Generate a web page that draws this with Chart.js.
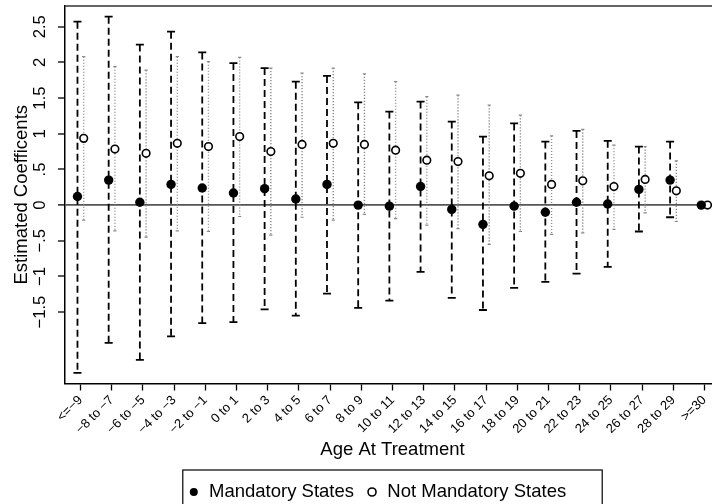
<!DOCTYPE html>
<html>
<head>
<meta charset="utf-8">
<style>
html, body { margin: 0; padding: 0; overflow: hidden; background: #fff; }
#wrap { position: relative; width: 754px; height: 512px; }
</style>
<script src="https://cdn.jsdelivr.net/npm/chart.js@4.4.1/dist/chart.umd.min.js"></script>
</head>
<body>
<div id="wrap"><canvas id="c" width="754" height="512"></canvas></div>
<script>
// ---------- data ----------
const categories = ["<=\u22129", "\u22128 to \u22127", "\u22126 to \u22125", "\u22124 to \u22123", "\u22122 to \u22121",
  "0 to 1", "2 to 3", "4 to 5", "6 to 7", "8 to 9", "10 to 11", "12 to 13", "14 to 15", "16 to 17",
  "18 to 19", "20 to 21", "22 to 23", "24 to 25", "26 to 27", "28 to 29", ">=30"];

const mandatoryCoef  = [0.12, 0.35, 0.04, 0.29, 0.24, 0.17, 0.23, 0.085, 0.29, 0.00, -0.015, 0.26, -0.06, -0.27, -0.015, -0.10, 0.04, 0.015, 0.22, 0.35, 0.00];
const mandatoryUpper = [2.57, 2.64, 2.25, 2.43, 2.14, 1.99, 1.92, 1.73, 1.81, 1.44, 1.31, 1.45, 1.17, 0.96, 1.145, 0.89, 1.04, 0.90, 0.82, 0.89, null];
const mandatoryLower = [-2.35, -1.93, -2.17, -1.84, -1.655, -1.64, -1.46, -1.55, -1.24, -1.44, -1.34, -0.935, -1.30, -1.47, -1.16, -1.075, -0.96, -0.865, -0.37, -0.17, null];

const notMandatoryCoef  = [0.935, 0.785, 0.725, 0.865, 0.82, 0.96, 0.75, 0.85, 0.865, 0.85, 0.77, 0.63, 0.61, 0.41, 0.445, 0.29, 0.34, 0.26, 0.36, 0.20, 0.00];
const notMandatoryUpper = [2.08, 1.94, 1.89, 2.08, 2.01, 2.07, 1.92, 1.85, 1.92, 1.84, 1.73, 1.52, 1.54, 1.40, 1.26, 0.97, 1.06, 0.84, 0.82, 0.62, null];
const notMandatoryLower = [-0.21, -0.36, -0.45, -0.36, -0.37, -0.16, -0.42, -0.17, -0.21, -0.13, -0.19, -0.28, -0.33, -0.55, -0.37, -0.41, -0.39, -0.34, -0.11, -0.23, null];

const yTickValues = [-1.5, -1, -0.5, 0, 0.5, 1, 1.5, 2, 2.5];
const yTickLabels = ["\u22121.5", "\u22121", "\u2212.5", "0", ".5", "1", "1.5", "2", "2.5"];

const seriesNames = ["Mandatory States", "Not Mandatory States"];
const xTitle = "Age At Treatment";
const yTitle = "Estimated Coefficents";

// ---------- helpers (build library data from the arrays) ----------
const DODGE = 0.1; // horizontal dodge of the two series within a category
function points(vals, off) {
  return vals.map((v, i) => ({ x: i + off, y: v }));
}
function ciSegments(lo, hi, off) {
  const out = [];
  lo.forEach((l, i) => {
    if (l === null || hi[i] === null) return;
    out.push({ x: i + off, y: hi[i] }, { x: i + off, y: l }, { x: i + off, y: null });
  });
  return out;
}
function ciEnds(lo, hi, off) {
  const out = [];
  lo.forEach((l, i) => {
    if (l === null || hi[i] === null) return;
    out.push({ x: i + off, y: hi[i] }, { x: i + off, y: l });
  });
  return out;
}

const FONT = '"Liberation Sans", Arial, Helvetica, sans-serif';
Chart.defaults.font.family = FONT;
Chart.defaults.color = '#000';

function zeroPads(s) { s.paddingLeft = 0; s.paddingRight = 0; s.paddingTop = 0; s.paddingBottom = 0; }

const topBorder = {
  id: 'topBorder',
  beforeDatasetsDraw(chart) {
    const { ctx, chartArea: a } = chart;
    ctx.save();
    ctx.strokeStyle = '#333';
    ctx.lineWidth = 1.5;
    ctx.beginPath();
    ctx.moveTo(a.left, a.top);
    ctx.lineTo(a.right, a.top);
    ctx.stroke();
    ctx.restore();
  }
};

const legendFrame = {
  id: 'legendFrame',
  afterDraw(chart) {
    const lg = chart.legend;
    if (!lg || !lg.legendHitBoxes || !lg.legendHitBoxes.length) return;
    const hb = lg.legendHitBoxes;
    const first = hb[0], last = hb[hb.length - 1];
    const left = first.left - 5;
    const right = last.left + last.width + 36;
    const top = first.top + first.height / 2 - 22;
    const ctx = chart.ctx;
    ctx.save();
    ctx.strokeStyle = '#000';
    ctx.lineWidth = 1.2;
    ctx.strokeRect(left, top, right - left, 60);
    ctx.restore();
  }
};

new Chart(document.getElementById('c'), {
  type: 'scatter',
  data: {
    datasets: [
      {
        label: seriesNames[0],
        data: points(mandatoryCoef, -DODGE),
        pointStyle: 'circle',
        pointRadius: 4.7,
        pointBackgroundColor: '#000',
        pointBorderColor: '#000',
        pointBorderWidth: 0
      },
      {
        label: seriesNames[1],
        data: points(notMandatoryCoef, DODGE),
        pointStyle: 'circle',
        pointRadius: 3.8,
        pointBackgroundColor: '#fff',
        pointBorderColor: '#000',
        pointBorderWidth: 1.6
      },
      {
        label: seriesNames[0] + ' CI',
        data: ciSegments(mandatoryLower, mandatoryUpper, -DODGE),
        showLine: true,
        spanGaps: false,
        borderColor: '#000',
        borderWidth: 1.8,
        borderDash: [7, 4],
        pointRadius: 0
      },
      {
        label: seriesNames[0] + ' CI caps',
        data: ciEnds(mandatoryLower, mandatoryUpper, -DODGE),
        pointStyle: 'line',
        pointRadius: 4,
        pointBorderColor: '#000',
        pointBorderWidth: 1.8
      },
      {
        label: seriesNames[1] + ' CI',
        data: ciSegments(notMandatoryLower, notMandatoryUpper, DODGE),
        showLine: true,
        spanGaps: false,
        borderColor: '#8a8a8a',
        borderWidth: 1.4,
        borderDash: [1.2, 1.8],
        pointRadius: 0
      },
      {
        label: seriesNames[1] + ' CI caps',
        data: ciEnds(notMandatoryLower, notMandatoryUpper, DODGE),
        pointStyle: 'line',
        pointRadius: 1.6,
        pointBorderColor: '#8a8a8a',
        pointBorderWidth: 1.2
      }
    ]
  },
  options: {
    responsive: false,
    animation: false,
    devicePixelRatio: 1,
    events: [],
    layout: { padding: { top: 6, left: 0, right: 0, bottom: 0.75 } },
    plugins: {
      tooltip: { enabled: false },
      legend: {
        display: true,
        position: 'bottom',
        align: 'center',
        labels: {
          usePointStyle: true,
          boxWidth: 12,
          boxHeight: 5.66,
          padding: 12,
          color: '#000',
          font: { family: FONT, size: 18.5 },
          filter: (item) => seriesNames.includes(item.text)
        }
      }
    },
    scales: {
      x: {
        type: 'linear',
        position: 'bottom',
        min: -0.5,
        max: 20.5,
        afterBuildTicks: (s) => { s.ticks = categories.map((_, i) => ({ value: i })); },
        afterFit: (s) => { s.height = 87.25; zeroPads(s); },
        ticks: {
          autoSkip: false,
          minRotation: 45,
          maxRotation: 45,
          padding: 2,
          color: '#000',
          font: { family: FONT, size: 13 },
          callback: (v, i) => categories[i]
        },
        grid: { display: true, drawOnChartArea: false, drawTicks: true, tickLength: 7, tickColor: '#000', tickWidth: 1.3 },
        border: { display: true, color: '#000', width: 1.5 },
        title: { display: true, text: xTitle, color: '#000', font: { family: FONT, size: 18.5 }, padding: { top: 0, bottom: 10.05 } }
      },
      y: {
        type: 'linear',
        position: 'left',
        min: -2.5,
        max: 2.79,
        afterBuildTicks: (s) => { s.ticks = yTickValues.map(v => ({ value: v })); },
        afterFit: (s) => { s.width = 65; zeroPads(s); },
        ticks: {
          minRotation: 90,
          maxRotation: 90,
          crossAlign: 'center',
          padding: 1.5,
          color: '#000',
          font: { family: FONT, size: 16.7 },
          callback: (v, i) => yTickLabels[i]
        },
        grid: {
          display: true,
          drawOnChartArea: true,
          color: (c) => (c.tick && c.tick.value === 0) ? '#555' : 'rgba(0,0,0,0)',
          lineWidth: (c) => (c.tick && c.tick.value === 0) ? 1.8 : 0,
          drawTicks: true,
          tickLength: 7,
          tickColor: '#000',
          tickWidth: 1.3
        },
        border: { display: true, color: '#000', width: 1.5 },
        title: { display: true, text: yTitle, color: '#000', font: { family: FONT, size: 18.5 }, padding: { top: 10.5, bottom: 0 } }
      },
      yR: {
        type: 'linear',
        position: 'right',
        display: true,
        afterFit: (s) => { s.width = 34; zeroPads(s); },
        ticks: { display: false },
        grid: { display: false, drawTicks: false },
        border: { display: false },
        title: { display: false }
      }
    }
  },
  plugins: [topBorder, legendFrame]
});
</script>
</body>
</html>
